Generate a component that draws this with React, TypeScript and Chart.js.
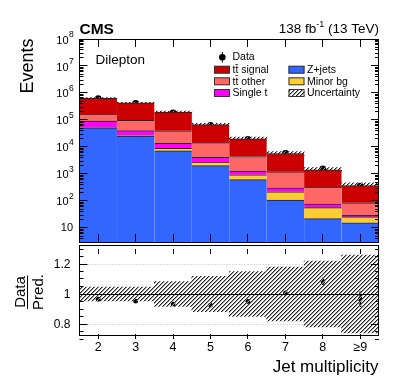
import React, { useEffect, useRef } from 'react';
import { Chart, registerables } from 'chart.js';

Chart.register(...registerables);

// ---------------- data ----------------
const categories = ['2', '3', '4', '5', '6', '7', '8', '≥9'];
const zJets = [51000, 25000, 7100, 2030, 614, 108, 22, 15.5];
const minorBg = [1000, 1500, 1800, 700, 320, 110, 34, 10];
const singleT = [39000, 14000, 4700, 1430, 345, 88, 21, 3.7];
const ttOther = [74000, 56000, 26000, 10200, 3140, 900, 246, 56];
const ttSignal = [474000, 333000, 156000, 52900, 15700, 4490, 1100, 284];
const dataEvents = [617000, 409000, 182500, 62200, 19100, 5730, 1543, 356];
const ratioValues = [0.965, 0.952, 0.933, 0.925, 0.95, 1.006, 1.084, 0.965];
const ratioErrors = [0.002, 0.002, 0.003, 0.005, 0.008, 0.013, 0.022, 0.05];
const relUncertainty = [0.046, 0.046, 0.083, 0.118, 0.15, 0.18, 0.22, 0.26];
const logTickExponents = [1, 2, 3, 4, 5, 6, 7, 8];
const ratioTickValues = [0.8, 1, 1.2];
const ratioTickLabels = ['0.8', '1', '1.2'];

const FONT = '"Liberation Sans", Arial, Helvetica, sans-serif';
const C_SIGNAL = '#cc0000';
const C_OTHER = '#ff6666';
const C_SINGLET = '#ff00ff';
const C_ZJETS = '#3366ff';
const C_MINOR = '#ffcc33';

const components = [zJets, minorBg, singleT, ttOther, ttSignal];
const totals = categories.map((_, i) => components.reduce((s, c) => s + c[i], 0));
const stackBounds = components.map((_, k) =>
  categories.map((_, i) => {
    let lo = 0;
    for (let j = 0; j < k; j++) lo += components[j][i];
    return [lo === 0 ? 1 : lo, lo + components[k][i]];
  })
);

function makeHatch(): CanvasPattern | string {
  const c = document.createElement('canvas');
  c.width = 4;
  c.height = 4;
  const g = c.getContext('2d');
  if (!g) return '#888';
  for (let i = 0; i < 4; i++) {
    g.fillStyle = '#222';
    g.fillRect(i, 3 - i, 1, 1);
    g.fillStyle = '#9a9a9a';
    g.fillRect(i, (4 - i) % 4, 1, 1);
  }
  return g.createPattern(c, 'repeat') || '#888';
}

const crisp = (v: number) => Math.floor(v) + 0.5;

export default function App() {
  const topRef = useRef<HTMLCanvasElement>(null);
  const botRef = useRef<HTMLCanvasElement>(null);

  useEffect(() => {
    const hatch = makeHatch();

    const barBase: any = {
      type: 'bar',
      barPercentage: 1,
      categoryPercentage: 1,
      borderSkipped: false,
      borderWidth: { top: 1, right: 0, bottom: 0, left: 0 },
      borderColor: '#222',
      clip: 0,
    };

    const topDecor = {
      id: 'topDecor',
      afterDraw(chart: any) {
        const { ctx, chartArea: a, scales } = chart;
        const y = scales.y;
        const x = scales.x;
        ctx.save();
        ctx.strokeStyle = '#000';
        ctx.lineWidth = 1;
        ctx.beginPath();
        for (let e = 0; e <= 8; e++) {
          for (let k = 1; k <= 9; k++) {
            const v = k * Math.pow(10, e);
            if (v < y.min || v > y.max) continue;
            const py = crisp(y.getPixelForValue(v));
            const len = k === 1 ? 8 : 4;
            ctx.moveTo(a.left, py);
            ctx.lineTo(a.left + len, py);
            ctx.moveTo(a.right, py);
            ctx.lineTo(a.right - len, py);
          }
        }
        categories.forEach((_, i) => {
          const px = crisp(x.getPixelForValue(i));
          ctx.moveTo(px, a.bottom);
          ctx.lineTo(px, a.bottom - 8);
          ctx.moveTo(px, a.top);
          ctx.lineTo(px, a.top + 8);
        });
        ctx.stroke();
        ctx.strokeRect(crisp(a.left), crisp(a.top), Math.round(a.right - a.left) - 1, Math.round(a.bottom - a.top));

        // log labels
        ctx.fillStyle = '#000';
        ctx.textBaseline = 'middle';
        logTickExponents.forEach((e) => {
          const py = y.getPixelForValue(Math.pow(10, e));
          if (e === 1) {
            ctx.font = `11px ${FONT}`;
            ctx.textAlign = 'right';
            ctx.fillText('10', 73, py + 0.5);
          } else {
            ctx.font = `11px ${FONT}`;
            ctx.textAlign = 'right';
            ctx.fillText('10', 68.5, py + 1.5);
            ctx.font = `8.5px ${FONT}`;
            ctx.textAlign = 'left';
            ctx.fillText(String(e), 69, py - 4);
          }
        });

        // axis title
        ctx.save();
        ctx.translate(33, 38.5);
        ctx.rotate(-Math.PI / 2);
        ctx.font = `18px ${FONT}`;
        ctx.textAlign = 'right';
        ctx.textBaseline = 'alphabetic';
        ctx.fillText('Events', 0, 0);
        ctx.restore();

        // CMS + lumi
        ctx.textBaseline = 'alphabetic';
        ctx.textAlign = 'left';
        ctx.font = `bold 15.5px ${FONT}`;
        ctx.fillText('CMS', 79.5, 34);
        ctx.font = `13.5px ${FONT}`;
        const p1 = '138 fb';
        const p3 = ' (13 TeV)';
        const w3 = ctx.measureText(p3).width;
        const w1 = ctx.measureText(p1).width;
        ctx.font = `9px ${FONT}`;
        const w2 = ctx.measureText('-1').width;
        const xEnd = 379;
        ctx.font = `13.5px ${FONT}`;
        ctx.fillText(p3, xEnd - w3, 32.5);
        ctx.fillText(p1, xEnd - w3 - w2 - w1, 32.5);
        ctx.font = `9px ${FONT}`;
        ctx.fillText('-1', xEnd - w3 - w2, 27);

        ctx.font = `13.5px ${FONT}`;
        ctx.fillText('Dilepton', 95.5, 63.5);

        // legend
        ctx.font = `10.5px ${FONT}`;
        ctx.textBaseline = 'middle';
        ctx.beginPath();
        ctx.arc(222.3, 57.3, 3.3, 0, Math.PI * 2);
        ctx.fill();
        ctx.beginPath();
        ctx.moveTo(222.3, 52);
        ctx.lineTo(222.3, 62.5);
        ctx.stroke();
        ctx.fillText('Data', 232.5, 57.5);
        const entries: [string, any, number, number][] = [
          ['tt\u0304 signal', C_SIGNAL, 214, 69.7],
          ['tt\u0304 other', C_OTHER, 214, 81.3],
          ['Single t', C_SINGLET, 214, 93],
          ['Z+jets', C_ZJETS, 288.5, 69.7],
          ['Minor bg', C_MINOR, 288.5, 81.3],
          ['Uncertainty', hatch, 288.5, 93],
        ];
        entries.forEach(([label, color, lx, ly]) => {
          ctx.fillStyle = color;
          ctx.fillRect(lx, ly - 3.7, 16, 7.4);
          ctx.strokeStyle = '#333';
          ctx.strokeRect(lx + 0.5, ly - 3.5, 15, 7);
          ctx.fillStyle = '#000';
          ctx.fillText(label, lx + 18.5, ly + 0.5);
        });
        ctx.restore();
      },
    };

    const botDecor = {
      id: 'botDecor',
      beforeDatasetsDraw(chart: any) {
        const { ctx, chartArea: a, scales } = chart;
        ctx.save();
        ctx.strokeStyle = '#bbbbbb';
        ctx.setLineDash([1, 2]);
        ctx.lineWidth = 1;
        [0.8, 1.2].forEach((v) => {
          const py = crisp(scales.y.getPixelForValue(v));
          ctx.beginPath();
          ctx.moveTo(a.left, py);
          ctx.lineTo(a.right, py);
          ctx.stroke();
        });
        ctx.restore();
      },
      afterDatasetDraw(chart: any, args: any) {
        if (args.index !== 0) return;
        const { ctx, chartArea: a, scales } = chart;
        ctx.save();
        ctx.strokeStyle = '#000';
        ctx.lineWidth = 1;
        const py = crisp(scales.y.getPixelForValue(1));
        ctx.beginPath();
        ctx.moveTo(a.left, py);
        ctx.lineTo(a.right, py);
        ctx.stroke();
        ctx.restore();
      },
      afterDraw(chart: any) {
        const { ctx, chartArea: a, scales } = chart;
        const y = scales.y;
        const x = scales.x;
        ctx.save();
        ctx.strokeStyle = '#000';
        ctx.lineWidth = 1;
        ctx.beginPath();
        for (let k = 14; k <= 26; k++) {
          const v = k / 20;
          const py = crisp(y.getPixelForValue(v));
          const major = k % 4 === 0;
          const len = major ? 8 : 4;
          ctx.moveTo(a.left, py);
          ctx.lineTo(a.left + len, py);
          ctx.moveTo(a.right, py);
          ctx.lineTo(a.right - len, py);
        }
        categories.forEach((_, i) => {
          const px = crisp(x.getPixelForValue(i));
          ctx.moveTo(px, a.bottom);
          ctx.lineTo(px, a.bottom - 5);
          ctx.moveTo(px, a.top);
          ctx.lineTo(px, a.top + 5);
        });
        ctx.stroke();
        ctx.strokeRect(crisp(a.left), 0.5, Math.round(a.right - a.left) - 1, Math.round(a.bottom - a.top));

        ctx.fillStyle = '#000';
        ctx.font = `12px ${FONT}`;
        ctx.textAlign = 'right';
        ctx.textBaseline = 'middle';
        ratioTickValues.forEach((v, i) => {
          ctx.fillText(ratioTickLabels[i], 70.5, y.getPixelForValue(v) + 0.5);
        });
        ctx.font = `12.5px ${FONT}`;
        ctx.textAlign = 'center';
        ctx.textBaseline = 'alphabetic';
        categories.forEach((c, i) => {
          ctx.fillText(c, x.getPixelForValue(i), 105.5);
        });
        ctx.font = `17px ${FONT}`;
        ctx.textAlign = 'right';
        ctx.fillText('Jet multiplicity', 378.5, 127);

        // Data / Pred.
        ctx.save();
        ctx.translate(25, 47);
        ctx.rotate(-Math.PI / 2);
        ctx.font = `15px ${FONT}`;
        ctx.textAlign = 'center';
        ctx.fillText('Data', 0, 0);
        ctx.fillText('Pred.', 0, 17.5);
        ctx.restore();
        ctx.beginPath();
        ctx.moveTo(27.5, 30.5);
        ctx.lineTo(27.5, 64);
        ctx.stroke();
        ctx.restore();
      },
    };

    const top = new Chart(topRef.current as HTMLCanvasElement, {
      type: 'bar',
      data: {
        labels: categories,
        datasets: [
          { ...barBase, label: 'Z+jets', data: stackBounds[0], backgroundColor: C_ZJETS },
          { ...barBase, label: 'Minor bg', data: stackBounds[1], backgroundColor: C_MINOR },
          { ...barBase, label: 'Single t', data: stackBounds[2], backgroundColor: C_SINGLET },
          { ...barBase, label: 'tt other', data: stackBounds[3], backgroundColor: C_OTHER },
          { ...barBase, label: 'tt signal', data: stackBounds[4], backgroundColor: C_SIGNAL },
          {
            type: 'bar',
            label: 'Uncertainty',
            data: totals.map((t, i) => [t * (1 - relUncertainty[i]), t * (1 + relUncertainty[i])]),
            backgroundColor: hatch,
            borderWidth: 0,
            barPercentage: 1,
            categoryPercentage: 1,
            clip: 0,
          },
          {
            type: 'line',
            label: 'Data',
            data: dataEvents,
            showLine: false,
            pointRadius: 3.4,
            pointBackgroundColor: '#000',
            pointBorderWidth: 0,
            borderColor: '#000',
            clip: 0,
          },
        ] as any,
      },
      options: {
        responsive: false,
        animation: false,
        devicePixelRatio: 1,
        layout: { padding: { left: 79.5, right: 20, top: 39, bottom: 1 } },
        plugins: { legend: { display: false }, tooltip: { enabled: false } },
        scales: {
          x: { type: 'category', offset: true, stacked: true, display: false },
          y: { type: 'logarithmic', min: 3, max: 1e8, stacked: false, display: false },
        },
      } as any,
      plugins: [topDecor],
    });

    const bot = new Chart(botRef.current as HTMLCanvasElement, {
      type: 'bar',
      data: {
        labels: categories,
        datasets: [
          {
            type: 'bar',
            label: 'Uncertainty',
            data: relUncertainty.map((u) => [1 - u, 1 + u]),
            backgroundColor: hatch,
            borderWidth: 0,
            barPercentage: 1,
            categoryPercentage: 1,
            clip: 0,
          },
          {
            type: 'bar',
            label: 'Stat',
            data: ratioValues.map((r, i) => [r - ratioErrors[i], r + ratioErrors[i]]),
            backgroundColor: '#000',
            borderWidth: 0,
            barThickness: 1.2,
            clip: 0,
          },
          {
            type: 'line',
            label: 'Data/Pred.',
            data: ratioValues,
            showLine: false,
            pointRadius: 2.4,
            pointBackgroundColor: '#000',
            pointBorderWidth: 0,
            borderColor: '#000',
            clip: 0,
          },
        ] as any,
      },
      options: {
        responsive: false,
        animation: false,
        devicePixelRatio: 1,
        layout: { padding: { left: 79.5, right: 20, top: 0, bottom: 44 } },
        plugins: { legend: { display: false }, tooltip: { enabled: false } },
        scales: {
          x: { type: 'category', offset: true, stacked: true, display: false },
          y: { type: 'linear', min: 0.7, max: 1.3, stacked: false, display: false },
        },
      } as any,
      plugins: [botDecor],
    });

    return () => {
      top.destroy();
      bot.destroy();
    };
  }, []);

  return (
    <div style={{ position: 'absolute', left: 0, top: 0, width: 399, height: 383, background: '#fff' }}>
      <canvas
        ref={topRef}
        width={399}
        height={246}
        style={{ position: 'absolute', left: 0, top: 0, width: 399, height: 246 }}
      />
      <canvas
        ref={botRef}
        width={399}
        height={138}
        style={{ position: 'absolute', left: 0, top: 245, width: 399, height: 138 }}
      />
    </div>
  );
}
